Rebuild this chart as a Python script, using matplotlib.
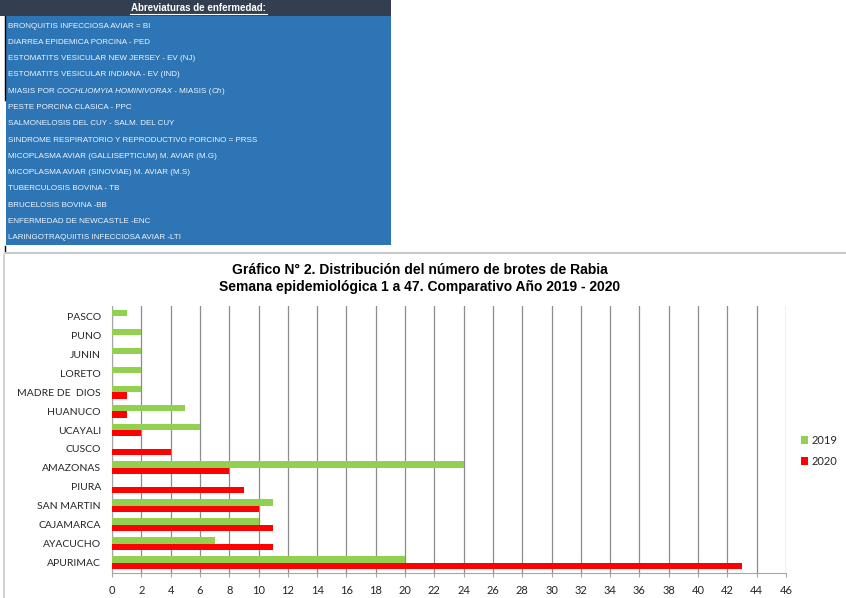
import matplotlib
matplotlib.use('Agg')
import matplotlib.pyplot as plt
from matplotlib.patches import Rectangle
from matplotlib.lines import Line2D
import numpy as np

# datos
regiones = ['APURIMAC', 'AYACUCHO', 'CAJAMARCA', 'SAN MARTIN', 'PIURA', 'AMAZONAS',
            'CUSCO', 'UCAYALI', 'HUANUCO', 'MADRE DE  DIOS', 'LORETO', 'JUNIN', 'PUNO', 'PASCO']
brotes_2019 = [20, 7, 10, 11, 0, 24, 0, 6, 5, 2, 2, 2, 2, 1]
brotes_2020 = [43, 11, 11, 10, 9, 8, 4, 2, 1, 1, 0, 0, 0, 0]
xticks = list(range(0, 47, 2))

abreviaturas = [
    'BRONQUITIS INFECCIOSA AVIAR = BI',
    'DIARREA EPIDEMICA PORCINA - PED',
    'ESTOMATITS VESICULAR NEW JERSEY - EV (NJ)',
    'ESTOMATITS VESICULAR INDIANA - EV (IND)',
    None,  # linea con cursiva, se dibuja aparte
    'PESTE PORCINA CLASICA - PPC',
    'SALMONELOSIS DEL CUY - SALM. DEL CUY',
    'SINDROME RESPIRATORIO Y REPRODUCTIVO PORCINO = PRSS',
    'MICOPLASMA AVIAR (GALLISEPTICUM) M. AVIAR (M.G)',
    'MICOPLASMA AVIAR (SINOVIAE) M. AVIAR (M.S)',
    'TUBERCULOSIS BOVINA - TB',
    'BRUCELOSIS BOVINA -BB',
    'ENFERMEDAD DE NEWCASTLE -ENC',
    'LARINGOTRAQUIITIS INFECCIOSA AVIAR -LTI',
]
miasis = [('MIASIS POR ', 'normal'), ('COCHLIOMYIA HOMINIVORAX', 'italic'),
          (' - MIASIS (', 'normal'), ('Ch', 'italic'), (')', 'normal')]

W, H = 846, 598
fig = plt.figure(figsize=(W / 100, H / 100), dpi=100)

def fx(px):
    return px / W

def fy(py):
    return 1 - py / H

sans = ['Liberation Sans', 'DejaVu Sans']
calib = ['Lato', 'Liberation Sans', 'DejaVu Sans']

# --- cuadro de abreviaturas ---
fig.patches.append(Rectangle((fx(0), fy(16)), fx(391), 16 / H, transform=fig.transFigure,
                             facecolor='#333f50', edgecolor='none'))
fig.patches.append(Rectangle((fx(6), fy(245)), fx(385), 229 / H, transform=fig.transFigure,
                             facecolor='#2e75b6', edgecolor='none'))
fig.add_artist(Line2D([fx(5), fx(5)], [fy(16), fy(100)], color='black', lw=1))
fig.add_artist(Line2D([fx(5), fx(5)], [fy(246), fy(251)], color='black', lw=1))
fig.text(fx(198), fy(8), 'Abreviaturas de enfermedad:', color='white', fontsize=7,
         fontweight='bold', ha='center', va='center', family=sans)
fig.add_artist(Line2D([fx(130), fx(267)], [fy(14), fy(14)], color='white', lw=0.8))

y0, dy = 26, 16.3
for i, txt in enumerate(abreviaturas):
    if txt is None:
        continue
    fig.text(fx(8), fy(y0 + i * dy), txt, color='#f2f6fb', fontsize=5.75,
             ha='left', va='center', family=sans)

# linea de miasis con partes en cursiva
fig.canvas.draw()
r = fig.canvas.get_renderer()
x = 8
for parte, estilo in miasis:
    t = fig.text(fx(x), fy(y0 + 4 * dy), parte, color='#f2f6fb', fontsize=5.75,
                 style=estilo, ha='left', va='center', family=sans)
    x += t.get_window_extent(r).width

# --- marco del grafico ---
fig.add_artist(Line2D([fx(5), fx(846)], [fy(253), fy(253)], color='#c8c8c8', lw=1.5))
fig.add_artist(Line2D([fx(4), fx(4)], [fy(255), fy(598)], color='#c8c8c8', lw=1.2))

fig.text(fx(420), fy(270), 'Gráfico N° 2. Distribución del número de brotes de Rabia',
         fontsize=10, fontweight='bold', ha='center', va='center', family=sans)
fig.text(fx(420), fy(287), 'Semana epidemiológica 1 a 47. Comparativo Año 2019 - 2020',
         fontsize=10, fontweight='bold', ha='center', va='center', family=sans)

ax = fig.add_axes([fx(112), fy(573), fx(786) - fx(112), (573 - 306) / H])
y = np.arange(len(regiones))
h = 0.34
ax.barh(y + h / 2, brotes_2019, height=h, color='#92d050', label='2019', zorder=3)
ax.barh(y - h / 2, brotes_2020, height=h, color='#ff0000', label='2020', zorder=3)

ax.set_xlim(0, 46)
ax.set_ylim(-0.55, 13.55)
ax.set_xticks(xticks)
ax.set_yticks(y)
ax.set_yticklabels(regiones)
ax.grid(axis='x', color='#8c8c8c', lw=0.9, zorder=0)
for s in ['top', 'right']:
    ax.spines[s].set_visible(False)
ax.spines['left'].set_color('#a6a6a6')
ax.spines['bottom'].set_color('#a6a6a6')
ax.tick_params(axis='y', length=0, pad=8, labelsize=7.5, labelcolor='#262626')
ax.tick_params(axis='x', length=3, color='#a6a6a6', pad=6, labelsize=8,
               labelcolor='#262626')
for lab in ax.get_xticklabels() + ax.get_yticklabels():
    lab.set_family(calib)

leg = fig.legend(loc='upper left', bbox_to_anchor=(fx(795), fy(429)), frameon=False,
                 handlelength=0.7, handleheight=0.7, handletextpad=0.3,
                 labelspacing=0.9, borderpad=0, prop={'family': calib, 'size': 8})
for t in leg.get_texts():
    t.set_color('#262626')

fig.savefig('out.png', dpi=100)
